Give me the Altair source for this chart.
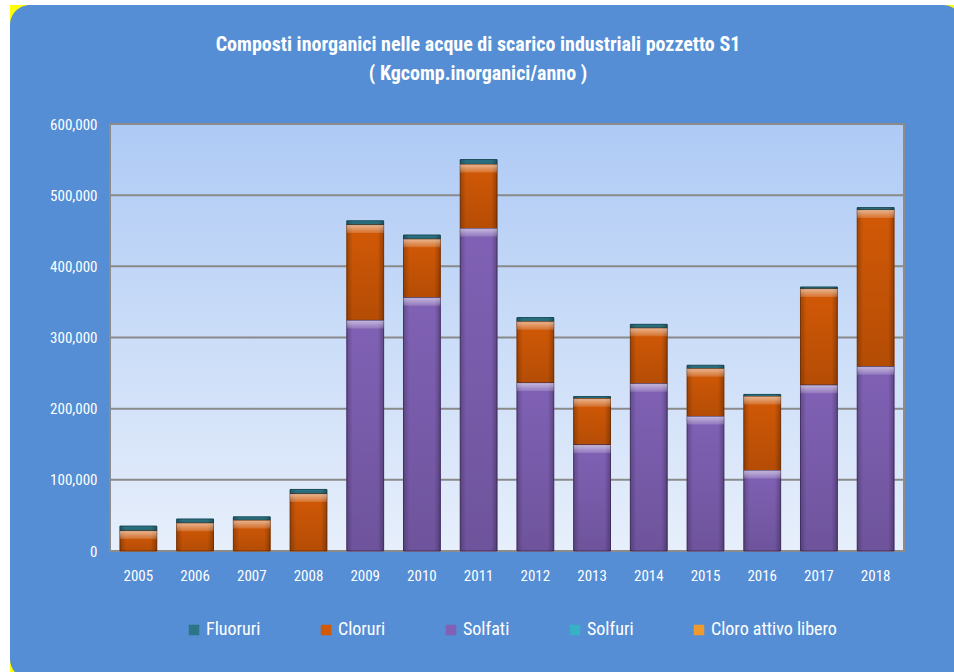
import altair as alt
import pandas as pd

# ---- data -------------------------------------------------------------
years = ["2005", "2006", "2007", "2008", "2009", "2010", "2011",
         "2012", "2013", "2014", "2015", "2016", "2017", "2018"]
fluoruri = [7000, 6000, 5000, 6500, 6000, 6000, 7000,
            6000, 3000, 5500, 5000, 3000, 3000, 3500]
cloruri = [28000, 39000, 43000, 80000, 134000, 82000, 90000,
           86000, 65000, 78000, 67000, 104000, 135000, 220000]
solfati = [0, 0, 0, 0, 324000, 356000, 453000,
           236000, 149000, 235000, 189000, 113000, 233000, 259000]
solfuri = [0, 0, 0, 0, 0, 0, 0, 0, 0, 0, 0, 0, 0, 0]
cloro_attivo = [0, 0, 0, 0, 0, 0, 0, 0, 0, 0, 0, 0, 0, 0]

series_names = ["Fluoruri", "Cloruri", "Solfati", "Solfuri", "Cloro attivo libero"]
series_values = [fluoruri, cloruri, solfati, solfuri, cloro_attivo]
# stacking position, bottom first
stack_rank = [2, 1, 0, 3, 4]
y_ticks = [0, 100000, 200000, 300000, 400000, 500000, 600000]

title_line1 = "Composti inorganici nelle acque di scarico industriali pozzetto S1"
title_line2 = "( Kgcomp.inorganici/anno )"

fill_colors = ["#2C7586", "#D25906", "#8061B5", "#38B1C7", "#EE9A2E"]
edge_colors = ["#1A4C57", "#8A3A04", "#4E3773", "#22788A", "#A96A1C"]

rows = []
for name, rank, vals in zip(series_names, stack_rank, series_values):
    for yr, v in zip(years, vals):
        rows.append({"year": yr, "series": name, "rank": rank, "value": v})
df = pd.DataFrame(rows)

# ---- layout -----------------------------------------------------------
W, H = 794, 427
FONT = "Liberation Sans Narrow, Roboto Condensed, Lato, sans-serif"
PANEL_BLUE = "#558ED5"

one_row = alt.Data(values=[{}])

x_enc = alt.X(
    "year:O",
    scale=alt.Scale(domain=years, paddingInner=0.35, paddingOuter=0.175),
    axis=alt.Axis(title=None, labelAngle=0, ticks=False, domain=False,
                  labelColor="white", labelFontSize=15, labelFont=FONT,
                  labelPadding=17, zindex=2),
)
y_scale = alt.Scale(domain=[0, 600000], nice=False, zero=True)
y_axis = alt.Axis(title=None, values=y_ticks,
                  labelExpr="format(datum.value, ',')", grid=False,
                  ticks=False, domain=False, labelColor="white",
                  labelFontSize=15, labelFont=FONT, labelPadding=13, zindex=2)

# outer frame: yellow sheet with a rounded blue panel on top
yellow = alt.Chart(one_row).mark_rect(color="#FFFF00").encode(
    x=alt.value(-100), x2=alt.value(W + 50),
    y=alt.value(-119), y2=alt.value(H + 121),
)
panel = alt.Chart(one_row).mark_rect(color=PANEL_BLUE, cornerRadius=20).encode(
    x=alt.value(-100), x2=alt.value(W + 59),
    y=alt.value(-119), y2=alt.value(H + 128),
)

# plot area with vertical gradient and grey border
plot_bg = alt.Chart(one_row).mark_rect(
    fill=alt.Gradient(
        gradient="linear",
        stops=[alt.GradientStop(color="#AECAF5", offset=0),
               alt.GradientStop(color="#E7EFFB", offset=1)],
        x1=0, x2=0, y1=0, y2=1,
    ),
    stroke="#8C8C8C", strokeWidth=2,
).encode(x=alt.value(0), x2=alt.value(W), y=alt.value(0), y2=alt.value(H))

grid = alt.Chart(pd.DataFrame({"tick": y_ticks[1:]})).mark_rule(
    color="#8A8A8A", strokeWidth=2
).encode(y=alt.Y("tick:Q", scale=y_scale, axis=y_axis))

title1 = alt.Chart(one_row).mark_text(
    text=title_line1, font=FONT, fontSize=20, fontWeight="bold",
    color="white", align="center", baseline="middle",
).encode(x=alt.value(W / 2 - 29), y=alt.value(-79))
title2 = alt.Chart(one_row).mark_text(
    text=title_line2, font=FONT, fontSize=20, fontWeight="bold",
    color="white", align="center", baseline="middle",
).encode(x=alt.value(W / 2 - 29), y=alt.value(-50))

# stacked segments
stacked = alt.Chart(df).transform_stack(
    stack="value", groupby=["year"], as_=["v0", "v1"],
    sort=[alt.SortField("rank", order="ascending")],
).transform_filter("datum.value > 0")

bars = stacked.mark_bar(strokeWidth=1).encode(
    x=x_enc,
    y=alt.Y("v0:Q", scale=y_scale, axis=y_axis),
    y2="v1:Q",
    color=alt.Color(
        "series:N",
        scale=alt.Scale(domain=series_names, range=fill_colors),
        legend=alt.Legend(
            orient="none", legendX=75, legendY=497, direction="horizontal",
            columns=5, title=None, labelColor="white", labelFontSize=18,
            labelFont=FONT, symbolType="square", symbolSize=110,
            symbolStrokeWidth=0, columnPadding=56, labelOffset=3, zindex=2,
        ),
    ),
    stroke=alt.Stroke("series:N",
                      scale=alt.Scale(domain=series_names, range=edge_colors),
                      legend=None),
)

# bevel shading: darker sides and base of each segment
side_shade = stacked.mark_bar(
    fill=alt.Gradient(
        gradient="linear",
        stops=[alt.GradientStop(color="rgba(0,0,0,0.22)", offset=0),
               alt.GradientStop(color="rgba(0,0,0,0)", offset=0.16),
               alt.GradientStop(color="rgba(0,0,0,0)", offset=0.84),
               alt.GradientStop(color="rgba(0,0,0,0.26)", offset=1)],
        x1=0, x2=1, y1=0, y2=0,
    )
).encode(x=x_enc, y=alt.Y("v0:Q", scale=y_scale, axis=y_axis), y2="v1:Q")

base_shade = stacked.mark_bar(
    fill=alt.Gradient(
        gradient="linear",
        stops=[alt.GradientStop(color="rgba(0,0,0,0)", offset=0),
               alt.GradientStop(color="rgba(0,0,0,0.14)", offset=1)],
        x1=0, x2=0, y1=0, y2=1,
    )
).encode(x=x_enc, y=alt.Y("v0:Q", scale=y_scale, axis=y_axis), y2="v1:Q")

# light strip along the top of each large segment
top_light = stacked.transform_filter("datum.value >= 20000").mark_bar(
    y2Offset=8,
    fill=alt.Gradient(
        gradient="linear",
        stops=[alt.GradientStop(color="rgba(255,255,255,0.55)", offset=0),
               alt.GradientStop(color="rgba(255,255,255,0.15)", offset=1)],
        x1=0, x2=0, y1=0, y2=1,
    ),
).encode(x=x_enc, y=alt.Y("v1:Q", scale=y_scale, axis=y_axis), y2="v1:Q")

chart = alt.layer(
    yellow, panel, plot_bg, grid, bars, side_shade, base_shade, top_light,
    title1, title2,
).properties(
    width=W, height=H,
    padding={"left": 110, "top": 124, "right": 50, "bottom": 121},
    autosize=alt.AutoSizeParams(type="none"),
    background="white",
).configure_view(stroke=None)

chart.save("out.html", embed_options={"renderer": "svg", "actions": False})
